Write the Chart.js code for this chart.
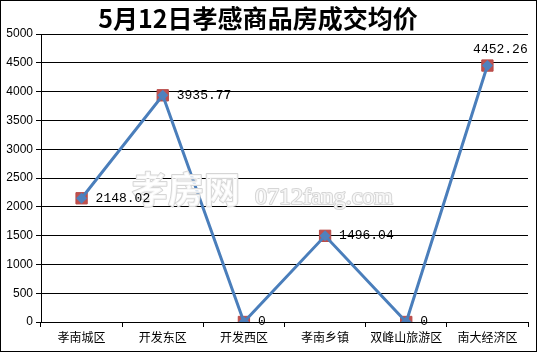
<!DOCTYPE html>
<html>
<head>
<meta charset="utf-8">
<script src="https://cdn.jsdelivr.net/npm/chart.js@4/dist/chart.umd.min.js"></script>
<style>
  body { margin: 0; background: #fff; }
  canvas { display: block; }
</style>
</head>
<body>
<canvas id="chart" width="537" height="352"></canvas>
<script>
const titleText = "5月12日孝感商品房成交均价";
const districts = ["孝南城区", "开发东区", "开发西区", "孝南乡镇", "双峰山旅游区", "南大经济区"];
const avgPrice = [2148.02, 3935.77, 0, 1496.04, 0, 4452.26];
const priceLabels = ["2148.02", "3935.77", "0", "1496.04", "0", "4452.26"];

// title, value labels, watermark and outer frame
const decor = {
  id: "decor",
  beforeDraw(chart) {
    const ctx = chart.ctx;
    ctx.save();
    ctx.fillStyle = "#fff";
    ctx.fillRect(0, 0, chart.width, chart.height);
    ctx.restore();
  },
  afterDatasetsDraw(chart) {
    const ctx = chart.ctx;
    const x = chart.scales.x;
    const y = chart.scales.y;

    // watermark
    ctx.save();
    ctx.lineJoin = "round";
    ctx.textBaseline = "alphabetic";
    ctx.font = "bold 36px 'Noto Sans CJK SC'";
    ctx.strokeStyle = "#d6d6d6";
    ctx.lineWidth = 2;
    ctx.strokeText("孝房网", 132, 203);
    ctx.fillStyle = "rgba(255,255,255,0.8)";
    ctx.fillText("孝房网", 132, 203);
    ctx.font = "24px 'Liberation Serif'";
    ctx.strokeText("0712fang.com", 255, 204);
    ctx.fillText("0712fang.com", 255, 204);
    ctx.restore();

    // value labels
    ctx.save();
    ctx.font = "13px 'Liberation Mono'";
    ctx.fillStyle = "#000";
    ctx.textBaseline = "middle";
    avgPrice.forEach((v, i) => {
      const px = x.getPixelForValue(i);
      const py = y.getPixelForValue(v);
      if (i === avgPrice.length - 1) {
        ctx.textAlign = "center";
        ctx.fillText(priceLabels[i], px + 13, py - 16);
      } else {
        ctx.textAlign = "left";
        ctx.fillText(priceLabels[i], px + 14, py);
      }
    });
    ctx.restore();
  },
  afterDraw(chart) {
    const ctx = chart.ctx;
    ctx.save();
    ctx.font = "bold 25px 'Noto Sans CJK SC'";
    ctx.fillStyle = "#000";
    ctx.textAlign = "center";
    ctx.textBaseline = "middle";
    ctx.fillText(titleText, 258, 18);
    ctx.strokeStyle = "#000";
    ctx.lineWidth = 1;
    ctx.strokeRect(0.5, 0.5, chart.width - 1, chart.height - 1);
    ctx.restore();
  }
};

new Chart(document.getElementById("chart"), {
  type: "line",
  plugins: [decor],
  data: {
    labels: districts,
    datasets: [
      {
        data: avgPrice,
        borderColor: "#4A7EBB",
        borderWidth: 3,
        pointStyle: "rectRot",
        pointRadius: 5.5,
        pointBackgroundColor: "#4F81BD",
        pointBorderColor: "#4F81BD",
        pointBorderWidth: 0,
        tension: 0
      },
      {
        data: avgPrice,
        showLine: false,
        pointStyle: "rect",
        pointRadius: 8,
        pointBackgroundColor: "#C0504D",
        pointBorderColor: "#B84A47",
        pointBorderWidth: 1
      }
    ]
  },
  options: {
    responsive: false,
    animation: false,
    layout: { padding: { top: 34, right: 2, left: 0, bottom: 0 } },
    plugins: {
      legend: { display: false },
      tooltip: { enabled: false }
    },
    scales: {
      x: {
        offset: true,
        grid: { drawOnChartArea: false, offset: true, color: "#000", tickLength: 5 },
        border: { color: "#000" },
        ticks: { color: "#000", font: { family: "'Noto Sans CJK SC'", size: 12 }, padding: 3, maxRotation: 0, autoSkip: false },
        afterFit(scale) { scale.height = 30; }
      },
      y: {
        min: 0,
        max: 5000,
        grid: { color: "#000", tickLength: 5 },
        border: { color: "#000" },
        ticks: {
          stepSize: 500,
          color: "#000",
          font: { family: "'Liberation Sans'", size: 12 },
          padding: 3,
          callback: (v) => String(v)
        },
        afterFit(scale) { scale.width = 41; }
      }
    }
  }
});
</script>
</body>
</html>
